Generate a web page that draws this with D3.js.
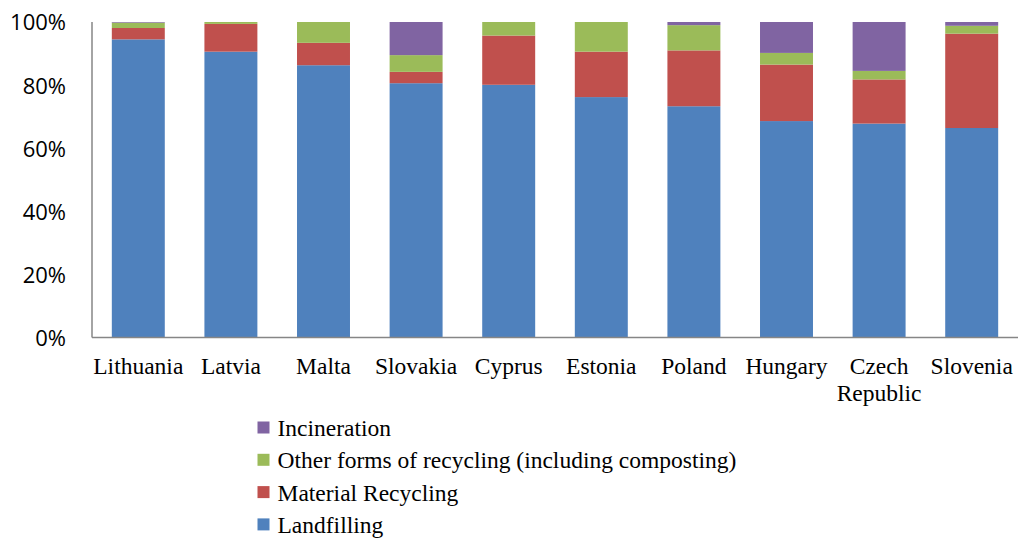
<!DOCTYPE html>
<html>
<head>
<meta charset="utf-8">
<script src="https://cdn.jsdelivr.net/npm/d3@7"></script>
<style>
  html, body { margin: 0; padding: 0; background: #fff; }
  svg { display: block; }
</style>
</head>
<body>
<svg id="chart" width="1020" height="540"></svg>
<script>
// Municipal waste treatment shares by country (per cent of total)
const countries = ["Lithuania", "Latvia", "Malta", "Slovakia", "Cyprus", "Estonia", "Poland", "Hungary", "Czech Republic", "Slovenia"];
const landfilling       = [94.5, 90.6, 86.3, 80.6, 80.1, 76.2, 73.3, 68.6, 67.8, 66.4];
const materialRecycling = [ 3.6,  8.8,  7.1,  3.6, 15.6, 14.4, 17.7, 17.9, 14.0, 29.9];
const otherRecycling    = [ 1.7,  0.6,  6.6,  5.3,  4.3,  9.4,  8.0,  3.7,  2.7,  2.5];
const incineration      = [ 0.2,  0.0,  0.0, 10.5,  0.0,  0.0,  1.0,  9.8, 15.5,  1.2];
const yTicks = [0, 20, 40, 60, 80, 100];

const seriesNames = ["Landfilling", "Material Recycling", "Other forms of recycling (including composting)", "Incineration"];
const seriesValues = [landfilling, materialRecycling, otherRecycling, incineration];
const colors = ["#4F81BD", "#C0504D", "#9BBB59", "#8064A2"];

const svg = d3.select("#chart");
const plotLeft = 92, plotRight = 1018, plotTop = 22, plotBottom = 337.5;

const x = d3.scaleBand().domain(countries).range([plotLeft, plotRight]).paddingInner(0.428).paddingOuter(0.214);
const y = d3.scaleLinear().domain([0, 100]).range([plotBottom, plotTop]);

// stacked layout
const rows = countries.map((c, i) => {
  const r = { country: c };
  seriesNames.forEach((s, k) => r[s] = seriesValues[k][i]);
  return r;
});
const stacked = d3.stack().keys(seriesNames)(rows);

svg.append("g").selectAll("g")
  .data(stacked)
  .join("g")
  .attr("fill", (d, k) => colors[k])
  .selectAll("rect")
  .data(d => d)
  .join("rect")
  .attr("x", d => x(d.data.country))
  .attr("width", x.bandwidth())
  .attr("y", d => y(d[1]))
  .attr("height", d => Math.max(0, y(d[0]) - y(d[1])));

// Y axis
const yAxis = d3.axisLeft(y).tickValues(yTicks).tickFormat(d => d + "%").tickSize(0).tickPadding(26);
const gy = svg.append("g").attr("transform", `translate(${plotLeft},0)`).call(yAxis);
gy.select(".domain").remove();
gy.selectAll("text")
  .attr("font-family", "'Open Sans', sans-serif")
  .attr("font-size", 22)
  .attr("fill", "#000")
  .attr("dy", "0.36em");

// X axis labels (wrapped)
const xAxis = d3.axisBottom(x).tickSize(0).tickFormat("");
const gx = svg.append("g").attr("transform", `translate(0,${plotBottom})`).call(xAxis);
gx.select(".domain").remove();
gx.selectAll(".tick").each(function(d) {
  const words = d === "Czech Republic" ? ["Czech", "Republic"] : [d];
  const t = d3.select(this).append("text")
    .attr("font-family", "'Liberation Serif', 'Times New Roman', serif")
    .attr("font-size", 23.5)
    .attr("fill", "#000")
    .attr("text-anchor", "middle");
  words.forEach((w, i) => t.append("tspan").attr("x", 0).attr("y", 36.5 + i * 27).text(w));
});

// axis lines
svg.append("line").attr("x1", plotLeft).attr("x2", plotLeft).attr("y1", plotTop).attr("y2", plotBottom)
  .attr("stroke", "#868686").attr("stroke-width", 1.5);
svg.append("line").attr("x1", plotLeft).attr("x2", plotRight).attr("y1", plotBottom).attr("y2", plotBottom)
  .attr("stroke", "#868686").attr("stroke-width", 1.5);

// Legend (top entry is the top of the stack)
const legendOrder = [3, 2, 1, 0];
const legend = svg.append("g");
legendOrder.forEach((k, i) => {
  const by = 436 + i * 32.3;
  legend.append("rect").attr("x", 257.5).attr("y", by - 14.5).attr("width", 12).attr("height", 12).attr("fill", colors[k]);
  legend.append("text").attr("x", 277.5).attr("y", by)
    .attr("font-family", "'Liberation Serif', 'Times New Roman', serif")
    .attr("font-size", 23.5)
    .attr("fill", "#000")
    .text(seriesNames[k]);
});
</script>
</body>
</html>
